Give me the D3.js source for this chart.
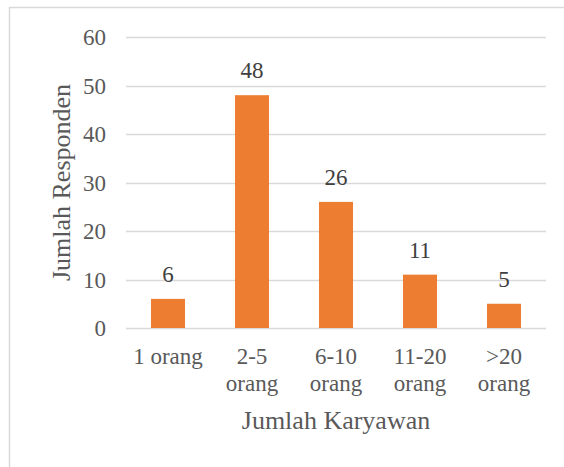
<!DOCTYPE html>
<html>
<head>
<meta charset="utf-8">
<script src="https://cdn.jsdelivr.net/npm/d3@7"></script>
<style>
  html, body { margin: 0; padding: 0; background: #fff; }
  svg { display: block; }
  text { font-family: "Liberation Serif", "Times New Roman", serif; }
</style>
</head>
<body>
<svg id="chart" width="564" height="467"></svg>
<script>
const categories = [["1 orang"], ["2-5", "orang"], ["6-10", "orang"], ["11-20", "orang"], [">20", "orang"]];
const values = [6, 48, 26, 11, 5];
const yTicks = [0, 10, 20, 30, 40, 50, 60];
const xTitle = "Jumlah Karyawan";
const yTitle = "Jumlah Responden";

const svg = d3.select("#chart");

// chart area frame
svg.append("rect")
  .attr("x", 9.5).attr("y", 7.5)
  .attr("width", 620).attr("height", 520)
  .attr("fill", "none").attr("stroke", "#d9d9d9").attr("stroke-width", 1.5);

const plot = { left: 126, right: 546, top: 37, bottom: 328 };

const x = d3.scaleBand()
  .domain(d3.range(values.length))
  .range([plot.left, plot.right])
  .paddingInner(0.595).paddingOuter(0.2975);

const y = d3.scaleLinear().domain([0, 60]).range([plot.bottom, plot.top]);

// horizontal gridlines
svg.append("g")
  .selectAll("line")
  .data(yTicks)
  .join("line")
  .attr("x1", plot.left).attr("x2", plot.right)
  .attr("y1", d => Math.round(y(d)) + 0.5).attr("y2", d => Math.round(y(d)) + 0.5)
  .attr("stroke", "#d9d9d9").attr("stroke-width", 1.5);

// y axis labels
const yAxis = svg.append("g")
  .attr("transform", `translate(${plot.left},0)`)
  .call(d3.axisLeft(y).tickValues(yTicks).tickSize(0).tickPadding(20));
yAxis.select(".domain").remove();
yAxis.attr("font-family", null);
yAxis.selectAll("text")
  .attr("font-size", 23)
  .attr("dy", "0.34em")
  .attr("fill", "#595959");

// bars
svg.append("g")
  .selectAll("rect")
  .data(values)
  .join("rect")
  .attr("x", (d, i) => x(i))
  .attr("width", x.bandwidth())
  .attr("y", d => y(d))
  .attr("height", d => y(0) - y(d))
  .attr("fill", "#ED7D31");

// value labels
svg.append("g")
  .selectAll("text")
  .data(values)
  .join("text")
  .attr("x", (d, i) => x(i) + x.bandwidth() / 2)
  .attr("y", d => y(d) - 17)
  .attr("text-anchor", "middle")
  .attr("font-size", 23)
  .attr("fill", "#404040")
  .text(d => d);

// category labels
const cat = svg.append("g")
  .selectAll("text")
  .data(categories)
  .join("text")
  .attr("x", (d, i) => x(i) + x.bandwidth() / 2)
  .attr("y", 364)
  .attr("text-anchor", "middle")
  .attr("fill", "#595959")
  .attr("font-size", 23);
cat.selectAll("tspan")
  .data(d => d)
  .join("tspan")
  .attr("x", function () { return this.parentNode.getAttribute("x"); })
  .attr("dy", (d, i) => i === 0 ? 0 : 27)
  .text(d => d);

// axis titles
svg.append("text")
  .attr("x", (plot.left + plot.right) / 2)
  .attr("y", 429)
  .attr("text-anchor", "middle")
  .attr("font-size", 26)
  .attr("fill", "#595959")
  .text(xTitle);

svg.append("text")
  .attr("transform", `translate(70,${(plot.top + plot.bottom) / 2}) rotate(-90)`)
  .attr("text-anchor", "middle")
  .attr("font-size", 26)
  .attr("fill", "#595959")
  .text(yTitle);
</script>
</body>
</html>
